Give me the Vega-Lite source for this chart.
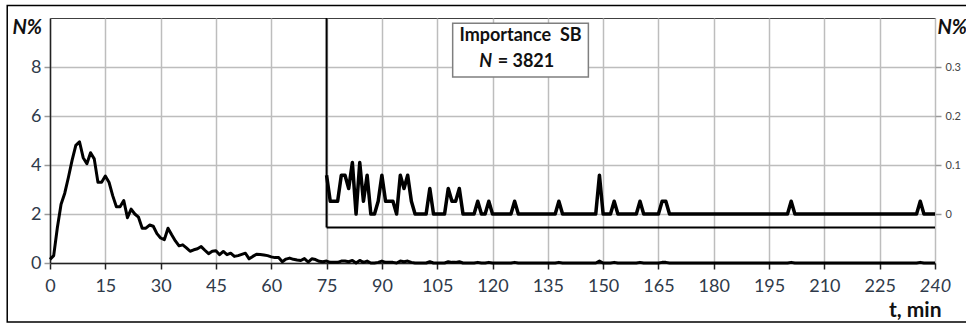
{
  "$schema": "https://vega.github.io/schema/vega-lite/v6.json",
  "width": 885,
  "height": 245,
  "autosize": {"type": "none"},
  "padding": {"left": 50, "top": 18, "right": 31, "bottom": 61},
  "background": "white",
  "config": {
    "font": "Lato",
    "view": {"stroke": "#404040", "strokeWidth": 1},
    "axis": {"labelFont": "Lato", "titleFont": "Lato"}
  },
  "datasets": {
    "series": [
      {"t": 0, "v": 0.15}, {"t": 1, "v": 0.3}, {"t": 2, "v": 1.45}, {"t": 3, "v": 2.4}, {"t": 4, "v": 2.85},
      {"t": 5, "v": 3.5}, {"t": 6, "v": 4.2}, {"t": 7, "v": 4.8}, {"t": 8, "v": 4.95}, {"t": 9, "v": 4.3},
      {"t": 10, "v": 4.05}, {"t": 11, "v": 4.5}, {"t": 12, "v": 4.25}, {"t": 13, "v": 3.3}, {"t": 14, "v": 3.3},
      {"t": 15, "v": 3.55}, {"t": 16, "v": 3.3}, {"t": 17, "v": 2.75}, {"t": 18, "v": 2.3}, {"t": 19, "v": 2.3},
      {"t": 20, "v": 2.55}, {"t": 21, "v": 1.85}, {"t": 22, "v": 2.2}, {"t": 23, "v": 2.0}, {"t": 24, "v": 1.87},
      {"t": 25, "v": 1.42}, {"t": 26, "v": 1.42}, {"t": 27, "v": 1.55}, {"t": 28, "v": 1.5}, {"t": 29, "v": 1.2},
      {"t": 30, "v": 1.02}, {"t": 31, "v": 0.95}, {"t": 32, "v": 1.42}, {"t": 33, "v": 1.15}, {"t": 34, "v": 0.9},
      {"t": 35, "v": 0.7}, {"t": 36, "v": 0.74}, {"t": 37, "v": 0.62}, {"t": 38, "v": 0.48}, {"t": 39, "v": 0.54},
      {"t": 40, "v": 0.58}, {"t": 41, "v": 0.67}, {"t": 42, "v": 0.52}, {"t": 43, "v": 0.38}, {"t": 44, "v": 0.48},
      {"t": 45, "v": 0.5}, {"t": 46, "v": 0.34}, {"t": 47, "v": 0.47}, {"t": 48, "v": 0.34}, {"t": 49, "v": 0.4},
      {"t": 50, "v": 0.27}, {"t": 51, "v": 0.3}, {"t": 52, "v": 0.35}, {"t": 53, "v": 0.4}, {"t": 54, "v": 0.17},
      {"t": 55, "v": 0.27}, {"t": 56, "v": 0.36}, {"t": 57, "v": 0.35}, {"t": 58, "v": 0.33}, {"t": 59, "v": 0.3},
      {"t": 60, "v": 0.25}, {"t": 61, "v": 0.22}, {"t": 62, "v": 0.22}, {"t": 63, "v": 0.05}, {"t": 64, "v": 0.16},
      {"t": 65, "v": 0.2}, {"t": 66, "v": 0.15}, {"t": 67, "v": 0.12}, {"t": 68, "v": 0.1}, {"t": 69, "v": 0.18},
      {"t": 70, "v": 0.04}, {"t": 71, "v": 0.17}, {"t": 72, "v": 0.14}, {"t": 73, "v": 0.07}, {"t": 74, "v": 0.05},
      {"t": 75, "v": 0.079}, {"t": 76, "v": 0.026}, {"t": 77, "v": 0.026}, {"t": 78, "v": 0.026}, {"t": 79, "v": 0.079},
      {"t": 80, "v": 0.079}, {"t": 81, "v": 0.052}, {"t": 82, "v": 0.105}, {"t": 83, "v": 0}, {"t": 84, "v": 0.105},
      {"t": 85, "v": 0.026}, {"t": 86, "v": 0.079}, {"t": 87, "v": 0}, {"t": 88, "v": 0}, {"t": 89, "v": 0.026},
      {"t": 90, "v": 0.079}, {"t": 91, "v": 0.026}, {"t": 92, "v": 0.026}, {"t": 93, "v": 0.026}, {"t": 94, "v": 0},
      {"t": 95, "v": 0.079}, {"t": 96, "v": 0.052}, {"t": 97, "v": 0.079}, {"t": 98, "v": 0.026}, {"t": 99, "v": 0},
      {"t": 100, "v": 0}, {"t": 101, "v": 0}, {"t": 102, "v": 0}, {"t": 103, "v": 0.052}, {"t": 104, "v": 0},
      {"t": 105, "v": 0}, {"t": 106, "v": 0}, {"t": 107, "v": 0}, {"t": 108, "v": 0.052}, {"t": 109, "v": 0.026},
      {"t": 110, "v": 0.026}, {"t": 111, "v": 0.052}, {"t": 112, "v": 0}, {"t": 113, "v": 0}, {"t": 114, "v": 0},
      {"t": 115, "v": 0}, {"t": 116, "v": 0.026}, {"t": 117, "v": 0}, {"t": 118, "v": 0}, {"t": 119, "v": 0.026},
      {"t": 120, "v": 0}, {"t": 121, "v": 0}, {"t": 122, "v": 0}, {"t": 123, "v": 0}, {"t": 124, "v": 0},
      {"t": 125, "v": 0}, {"t": 126, "v": 0.026}, {"t": 127, "v": 0}, {"t": 128, "v": 0}, {"t": 129, "v": 0},
      {"t": 130, "v": 0}, {"t": 131, "v": 0}, {"t": 132, "v": 0}, {"t": 133, "v": 0}, {"t": 134, "v": 0},
      {"t": 135, "v": 0}, {"t": 136, "v": 0}, {"t": 137, "v": 0}, {"t": 138, "v": 0.026}, {"t": 139, "v": 0},
      {"t": 140, "v": 0}, {"t": 141, "v": 0}, {"t": 142, "v": 0}, {"t": 143, "v": 0}, {"t": 144, "v": 0},
      {"t": 145, "v": 0}, {"t": 146, "v": 0}, {"t": 147, "v": 0}, {"t": 148, "v": 0}, {"t": 149, "v": 0.079},
      {"t": 150, "v": 0}, {"t": 151, "v": 0}, {"t": 152, "v": 0}, {"t": 153, "v": 0.026}, {"t": 154, "v": 0},
      {"t": 155, "v": 0}, {"t": 156, "v": 0}, {"t": 157, "v": 0}, {"t": 158, "v": 0}, {"t": 159, "v": 0},
      {"t": 160, "v": 0.026}, {"t": 161, "v": 0}, {"t": 162, "v": 0}, {"t": 163, "v": 0}, {"t": 164, "v": 0},
      {"t": 165, "v": 0}, {"t": 166, "v": 0.026}, {"t": 167, "v": 0.026}, {"t": 168, "v": 0}, {"t": 169, "v": 0},
      {"t": 170, "v": 0}, {"t": 171, "v": 0}, {"t": 172, "v": 0}, {"t": 173, "v": 0}, {"t": 174, "v": 0},
      {"t": 175, "v": 0}, {"t": 176, "v": 0}, {"t": 177, "v": 0}, {"t": 178, "v": 0}, {"t": 179, "v": 0},
      {"t": 180, "v": 0}, {"t": 181, "v": 0}, {"t": 182, "v": 0}, {"t": 183, "v": 0}, {"t": 184, "v": 0},
      {"t": 185, "v": 0}, {"t": 186, "v": 0}, {"t": 187, "v": 0}, {"t": 188, "v": 0}, {"t": 189, "v": 0},
      {"t": 190, "v": 0}, {"t": 191, "v": 0}, {"t": 192, "v": 0}, {"t": 193, "v": 0}, {"t": 194, "v": 0},
      {"t": 195, "v": 0}, {"t": 196, "v": 0}, {"t": 197, "v": 0}, {"t": 198, "v": 0}, {"t": 199, "v": 0},
      {"t": 200, "v": 0}, {"t": 201, "v": 0.026}, {"t": 202, "v": 0}, {"t": 203, "v": 0}, {"t": 204, "v": 0},
      {"t": 205, "v": 0}, {"t": 206, "v": 0}, {"t": 207, "v": 0}, {"t": 208, "v": 0}, {"t": 209, "v": 0},
      {"t": 210, "v": 0}, {"t": 211, "v": 0}, {"t": 212, "v": 0}, {"t": 213, "v": 0}, {"t": 214, "v": 0},
      {"t": 215, "v": 0}, {"t": 216, "v": 0}, {"t": 217, "v": 0}, {"t": 218, "v": 0}, {"t": 219, "v": 0},
      {"t": 220, "v": 0}, {"t": 221, "v": 0}, {"t": 222, "v": 0}, {"t": 223, "v": 0}, {"t": 224, "v": 0},
      {"t": 225, "v": 0}, {"t": 226, "v": 0}, {"t": 227, "v": 0}, {"t": 228, "v": 0}, {"t": 229, "v": 0},
      {"t": 230, "v": 0}, {"t": 231, "v": 0}, {"t": 232, "v": 0}, {"t": 233, "v": 0}, {"t": 234, "v": 0},
      {"t": 235, "v": 0}, {"t": 236, "v": 0.026}, {"t": 237, "v": 0}, {"t": 238, "v": 0}, {"t": 239, "v": 0},
      {"t": 240, "v": 0}
    ]
  },
  "layer": [
    {
      "layer": [
        {
          "data": {"name": "series"},
          "mark": {"type": "line", "color": "black", "strokeWidth": 3, "strokeJoin": "round"},
          "encoding": {
            "x": {
              "field": "t", "type": "quantitative",
              "scale": {"domain": [0, 240], "nice": false},
              "axis": {
                "values": [0, 15, 30, 45, 60, 75, 90, 105, 120, 135, 150, 165, 180, 195, 210, 225, 240],
                "labelFontSize": 18, "labelColor": "#2f3a4a", "labelPadding": 8, "labelFlush": false,
                "labelFontStyle": {"condition": {"test": "datum.value === 240", "value": "italic"}, "value": "normal"},
                "tickSize": 6, "tickColor": "#222", "tickWidth": 1.5,
                "domainColor": "#222", "domainWidth": 1.5,
                "grid": true, "gridColor": "#bdbdbd", "gridWidth": 1.5,
                "title": "t, min", "titleFontSize": 21, "titleFontWeight": "bold", "titleColor": "#111",
                "titleAnchor": "end", "titleAlign": "right", "titleBaseline": "alphabetic",
                "titleX": 891, "titleY": 53
              }
            },
            "y": {
              "field": "v", "type": "quantitative",
              "scale": {"domain": [0, 10], "nice": false},
              "axis": {
                "values": [0, 2, 4, 6, 8],
                "labelFontSize": 18, "labelColor": "#2f3a4a", "labelPadding": 3,
                "tickSize": 6, "tickColor": "#9a9a9a", "tickWidth": 1.5,
                "domainColor": "#222", "domainWidth": 1.5,
                "grid": true, "gridColor": "#bdbdbd", "gridWidth": 1.5,
                "title": "N%", "titleAngle": 0, "titleFontSize": 20, "titleFontWeight": "bold",
                "titleFontStyle": "italic", "titleColor": "#111",
                "titleAlign": "left", "titleBaseline": "alphabetic", "titleX": -38, "titleY": 15
              }
            }
          }
        },
        {
          "data": {"values": [{"a": 75, "b": 75, "c": 1.45, "d": 10}, {"a": 75, "b": 240, "c": 1.45, "d": 1.45}]},
          "mark": {"type": "rule", "color": "black", "strokeWidth": 2},
          "encoding": {
            "x": {"field": "a", "type": "quantitative"},
            "x2": {"field": "b"},
            "y": {"field": "c", "type": "quantitative"},
            "y2": {"field": "d"}
          }
        },
        {
          "data": {"values": [{}]},
          "mark": {"type": "rect", "fill": "white", "stroke": "#7f7f7f", "strokeWidth": 1.5},
          "encoding": {
            "x": {"datum": 109.2}, "x2": {"datum": 146.0},
            "y": {"datum": 9.79}, "y2": {"datum": 7.59}
          }
        },
        {
          "data": {"values": [{}]},
          "mark": {"type": "text", "text": "Importance\u00a0\u00a0SB", "font": "Lato", "fontSize": 18, "fontWeight": "bold", "color": "#111", "align": "center", "baseline": "middle"},
          "encoding": {"x": {"datum": 127.6}, "y": {"datum": 9.27}}
        },
        {
          "data": {"values": [{}]},
          "mark": {"type": "text", "text": "N", "font": "Lato", "fontSize": 18, "fontWeight": "bold", "fontStyle": "italic", "color": "#111", "align": "right", "baseline": "middle"},
          "encoding": {"x": {"datum": 119.9}, "y": {"datum": 8.19}}
        },
        {
          "data": {"values": [{}]},
          "mark": {"type": "text", "text": "= 3821", "font": "Lato", "fontSize": 18, "fontWeight": "bold", "color": "#111", "align": "left", "baseline": "middle"},
          "encoding": {"x": {"datum": 121.4}, "y": {"datum": 8.19}}
        },
        {
          "data": {"values": [{}]},
          "mark": {"type": "rect", "fill": null, "stroke": "black", "strokeWidth": 1.5},
          "encoding": {
            "x": {"datum": -11.6}, "x2": {"datum": 249.5},
            "y": {"datum": 10.51}, "y2": {"datum": -2.41}
          }
        }
      ]
    },
    {
      "data": {"name": "series"},
      "transform": [{"filter": "datum.t >= 75"}],
      "mark": {"type": "line", "color": "black", "strokeWidth": 3.5, "strokeJoin": "round"},
      "encoding": {
        "x": {"field": "t", "type": "quantitative"},
        "y": {
          "field": "v", "type": "quantitative",
          "scale": {"domain": [-0.1, 0.4], "nice": false},
          "axis": {
            "orient": "right",
            "values": [0, 0.1, 0.2, 0.3],
            "format": "~g",
            "labelFontSize": 11, "labelColor": "#444", "labelPadding": 4,
            "tickSize": 6, "tickColor": "#9a9a9a", "tickWidth": 1.5,
            "domain": false, "grid": false,
            "title": "N%", "titleAngle": 0, "titleFontSize": 20, "titleFontWeight": "bold",
            "titleFontStyle": "italic", "titleColor": "#111",
            "titleAlign": "left", "titleBaseline": "alphabetic", "titleX": 2, "titleY": 15
          }
        }
      }
    }
  ],
  "resolve": {"scale": {"y": "independent"}, "axis": {"y": "independent"}}
}
